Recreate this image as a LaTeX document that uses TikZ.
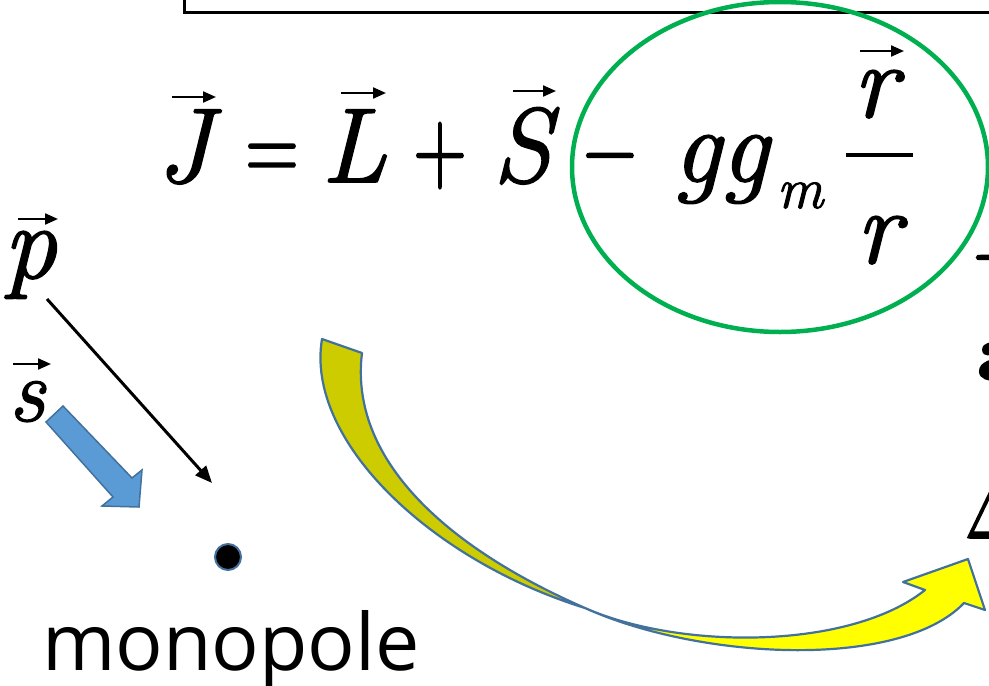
\documentclass[tikz,border=0pt]{standalone}
\usepackage{fontspec}
\usepackage{graphicx}
\newfontfamily\eqserif{Latin Modern Roman}[FakeBold=1.6]
\newfontfamily\labelsans{Open Sans}
\usetikzlibrary{arrows.meta}
\definecolor{ringgreen}{HTML}{00B050}
\definecolor{outlineblue}{HTML}{41719C}
\definecolor{spinblue}{HTML}{5B9BD5}
\definecolor{darkyel}{HTML}{CCCC00}
\definecolor{brightyel}{HTML}{FFFF00}
\tikzset{
  eqglyph/.style={inner sep=0pt, anchor=base, font=\eqserif\fontsize{106}{110}\selectfont},
  eqit/.style={inner sep=0pt, anchor=base, font=\eqserif\fontsize{106}{110}\selectfont\itshape},
  vecarrow/.style={line width=2.2pt, -{Triangle[length=13pt,width=11pt]}},
  ribbon/.style={draw=outlineblue, line width=2.2pt, line join=round},
}
\begin{document}
\begin{tikzpicture}[x=1pt,y=-1pt]
\useasboundingbox (0,0) rectangle (989,686);
\clip (0,0) rectangle (989,686);
% top frame
\coordinate (f1) at (184,-5);
\coordinate (f2) at (184,12);
\coordinate (f3) at (995,12);
\draw[line width=3pt] (f1) -- (f2) -- (f3);
% green ellipse
\coordinate (ringc) at (780,167);
\draw[ringgreen, line width=4.5pt] (ringc) ellipse [x radius=208, y radius=165];
% equation
\node[eqit] (J) at (184,182) {J};
\node[eqglyph] (eq) at (272,182) {\scalebox{0.7}[1]{=}};
\node[eqit] (L) at (354,182) {L};
\node[eqglyph] (plus) at (440,182) {\scalebox{0.7}[1]{+}};
\node[eqit] (S) at (522,182) {S};
\node[eqglyph] (minus) at (610,182) {\scalebox{0.7}[1]{−}};
\node[eqit] (gg) at (721,182) {gg};
\node[inner sep=0pt, anchor=base, font=\eqserif\fontsize{58}{60}\selectfont\itshape] (m) at (800,208) {m};
\node[eqit] (rn) at (875,117) {r};
\node[eqit] (rd) at (878,263) {r};
\coordinate (fb1) at (846,155);
\coordinate (fb2) at (913,155);
\draw[line width=4pt] (fb1) -- (fb2);
% vector arrows
\coordinate (Ja) at (172,97);  \coordinate (Jb) at (216,97);
\coordinate (La) at (341,93);  \coordinate (Lb) at (386,93);
\coordinate (Sa) at (513,91);  \coordinate (Sb) at (556,91);
\coordinate (ra) at (860,51);  \coordinate (rb) at (904,51);
\draw[vecarrow] (Ja) -- (Jb);
\draw[vecarrow] (La) -- (Lb);
\draw[vecarrow] (Sa) -- (Sb);
\draw[vecarrow] (ra) -- (rb);
% cut-off text at right
\node[inner sep=0pt, anchor=base, font=\eqserif\fontsize{106}{110}\selectfont] (cut1) at (1010,284) {−};
\node[inner sep=0pt, anchor=base west, font=\eqserif\fontsize{83}{84}\selectfont\bfseries] (cut2) at (977,380) {a};
\node[inner sep=0pt, anchor=base west, font=\eqserif\fontsize{102}{104}\selectfont] (cut3) at (964,538) {Δ};
% p and s
\node[inner sep=0pt, anchor=base, font=\eqserif\fontsize{106}{108}\selectfont\itshape] (p) at (30,278) {p};
\node[inner sep=0pt, anchor=base, font=\eqserif\fontsize{90}{92}\selectfont\itshape] (s) at (27,421) {s};
\coordinate (pa) at (18,219); \coordinate (pb) at (58,219);
\coordinate (sa) at (13,364); \coordinate (sb) at (51,364);
\draw[vecarrow] (pa) -- (pb);
\draw[vecarrow] (sa) -- (sb);
% momentum arrow
\coordinate (mo1) at (47,299);
\coordinate (mo2) at (212,483);
\draw[line width=3pt, -{Triangle[length=17pt,width=14pt]}] (mo1) -- (mo2);
% spin arrow
\filldraw[fill=spinblue, draw=outlineblue, line width=1.5pt, line join=miter]
  (46,422) -- (63,406) -- (132,478) -- (142,470) -- (139,507) -- (102,506) -- (113,497) -- cycle;
% monopole
\node[circle, fill=black, draw=outlineblue, line width=2pt, minimum size=26pt, inner sep=0pt] (dot) at (228,557) {};
\node[inner sep=0pt, anchor=base, font=\labelsans\fontsize{79}{80}\selectfont] (mono) at (231,670) {monopole};
% yellow curved arrow
\coordinate (ya) at (322,339);
\coordinate (yb) at (362,353);
\coordinate (yx) at (585,608);
\coordinate (yn) at (925,590);
\coordinate (yw1) at (903,582);
\coordinate (ytip) at (968,559);
\coordinate (yw2) at (985,610);
\coordinate (yw) at (964,603);
% back (dark) part
\filldraw[ribbon, fill=darkyel] (ya) -- (yb) .. controls (350,450) and (430,540) .. (yx)
  .. controls (430,560) and (305,440) .. (ya) -- cycle;
% front (bright) part
\filldraw[ribbon, fill=brightyel] (yx) .. controls (680,650) and (850,650) .. (yn)
  -- (yw1) -- (ytip) -- (yw2) -- (yw) .. controls (900,670) and (700,660) .. (yx) -- cycle;
\end{tikzpicture}
\end{document}
